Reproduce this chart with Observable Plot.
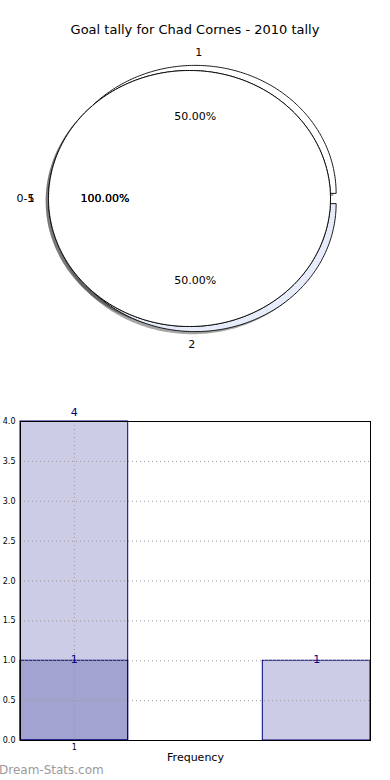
<!DOCTYPE html>
<html><head><meta charset="utf-8">
<script src="https://cdn.jsdelivr.net/npm/d3@7"></script>
<script src="https://cdn.jsdelivr.net/npm/@observablehq/plot@0.6"></script>
<style>
body{margin:0;background:#fff;font-family:"DejaVu Sans",sans-serif;}
#root{position:relative;width:390px;height:780px;overflow:hidden;background:#fff;}
#title{position:absolute;top:21px;left:0;width:390px;text-align:center;font-size:13px;line-height:18px;color:#000;}
#pie{position:absolute;top:40px;left:0;}
#bar{position:absolute;top:380px;left:0;}
#wm{position:absolute;left:-1px;top:762px;font-size:12px;color:#9a9a9a;line-height:16px;}
svg text{font-family:"DejaVu Sans",sans-serif;}
</style></head><body>
<div id="root">
  <div id="title">Goal tally for Chad Cornes - 2010 tally</div>
  <div id="pie"></div>
  <div id="bar"></div>
  <div id="wm">Dream-Stats.com</div>
</div>
<script>
// ---- Pie data (three overlapping pies as in the reference) ----
const pieALabels = ["0-5"];
const pieAValues = [1];
const pieBLabels = ["1", "2"];
const pieBValues = [1, 1];
const pieCLabels = ["1"];
const pieCValues = [1];

// ---- Histogram data ----
const histAStart = [0.6];
const histAEnd = [1.4];
const histACount = [4];
const histBStart = [0.6, 2.4];
const histBEnd = [1.4, 3.2];
const histBCount = [1, 1];
const xTickLabels = [1];
const yTicks = [0, 0.5, 1, 1.5, 2, 2.5, 3, 3.5, 4];

function layoutPie(labels, values, o) {
  const total = d3.sum(values);
  let a = 0;
  return labels.map((lab, i) => {
    const frac = values[i] / total;
    const a0 = a, a1 = a + frac * 2 * Math.PI; a = a1;
    const mid = (a0 + a1) / 2;
    const ex = o.explode || 0;
    const cx = o.cx + ex * Math.cos(mid), cy = o.cy + ex * Math.sin(mid);
    const pts = [];
    if (frac < 1) pts.push({x: cx, y: cy});
    for (let k = 0; k <= 240; k++) {
      const t = a0 + (a1 - a0) * k / 240;
      pts.push({x: cx + Math.cos(t), y: cy + Math.sin(t)});
    }
    if (frac < 1) pts.push({x: cx, y: cy});
    return {
      label: lab, pct: frac * 100, pts, fill: o.fills[i],
      lx: cx + 1.1 * Math.cos(mid), ly: cy + 1.1 * Math.sin(mid),
      px: cx + 0.6 * Math.cos(mid), py: cy + 0.6 * Math.sin(mid),
      anchor: Math.cos(mid) > 0 ? "start" : "end"
    };
  });
}

const wedgesA = layoutPie(pieALabels, pieAValues, {cx: 0, cy: 0, fills: ["#ffffff"]});
const wedgesB = layoutPie(pieBLabels, pieBValues, {cx: 0.04, cy: 0, explode: 0.04, fills: ["#ffffff", "#e6ecfa"]});
const wedgesC = layoutPie(pieCLabels, pieCValues, {cx: 0, cy: 0, fills: ["#ffffff"]});
const drawOrder = [...wedgesB, ...wedgesA, ...wedgesC];

const pieMarks = [];
for (const w of drawOrder) {
  pieMarks.push(Plot.line(w.pts, {x: d => d.x - 0.02, y: d => d.y - 0.02, fill: "#4d4d4d", fillOpacity: 0.5, stroke: "none", curve: "linear"}));
}
for (const w of drawOrder) {
  pieMarks.push(Plot.line(w.pts, {x: "x", y: "y", fill: w.fill, stroke: "#000", strokeWidth: 0.9, curve: "linear"}));
}
for (const w of drawOrder) {
  pieMarks.push(Plot.text([w], {x: "lx", y: "ly", text: "label", textAnchor: w.anchor, fontSize: 11, fill: "#000"}));
  pieMarks.push(Plot.text([w], {x: "px", y: "py", text: d => d3.format(".2f")(d.pct) + "%", fontSize: 11, fill: "#000"}));
}

const pie = Plot.plot({
  width: 390, height: 330,
  marginTop: 0, marginBottom: 0, marginLeft: 0, marginRight: 0,
  x: {domain: [-1, 1], range: [48, 330], axis: null},
  y: {domain: [-1, 1], range: [286, 30], axis: null},
  marks: pieMarks
});
document.getElementById("pie").appendChild(pie);

// ---- Histogram ----
const histA = histAStart.map((s, i) => ({x1: s, x2: histAEnd[i], count: histACount[i]}));
const histB = histBStart.map((s, i) => ({x1: s, x2: histBEnd[i], count: histBCount[i]}));

const bar = Plot.plot({
  width: 390, height: 400,
  marginTop: 41, marginBottom: 40, marginLeft: 20, marginRight: 20,
  x: {domain: [0.6, 3.2]},
  y: {domain: [0, 4]},
  marks: [
    Plot.rect(histA, {x1: "x1", x2: "x2", y1: 0, y2: "count", fill: "navy", fillOpacity: 0.2, stroke: "navy", strokeWidth: 1}),
    Plot.rect(histB, {x1: "x1", x2: "x2", y1: 0, y2: "count", fill: "navy", fillOpacity: 0.2, stroke: "navy", strokeWidth: 1}),
    Plot.gridY(yTicks, {stroke: "#999", strokeOpacity: 1, strokeDasharray: "1,3"}),
    Plot.gridX(xTickLabels, {stroke: "#999", strokeOpacity: 1, strokeDasharray: "1,3"}),
    Plot.frame({stroke: "#000", strokeWidth: 1}),
    Plot.axisY(yTicks, {tickFormat: d3.format(".1f"), tickSize: 0, tickPadding: 5, fontSize: 8, label: null}),
    Plot.axisX(xTickLabels, {tickFormat: d3.format("d"), tickSize: 0, tickPadding: 4, fontSize: 8, label: null}),
    Plot.text(["Frequency"], {frameAnchor: "bottom", dy: 20, fontSize: 11, fill: "#000"}),
    Plot.text(histA, {x: d => (d.x1 + d.x2) / 2, y: "count", text: d => String(d.count), dy: -9, fontSize: 11, fill: "navy"}),
    Plot.text(histB, {x: d => (d.x1 + d.x2) / 2, y: "count", text: d => String(d.count), dy: -1, fontSize: 11, fill: "navy"})
  ]
});
document.getElementById("bar").appendChild(bar);
</script>
</body></html>
